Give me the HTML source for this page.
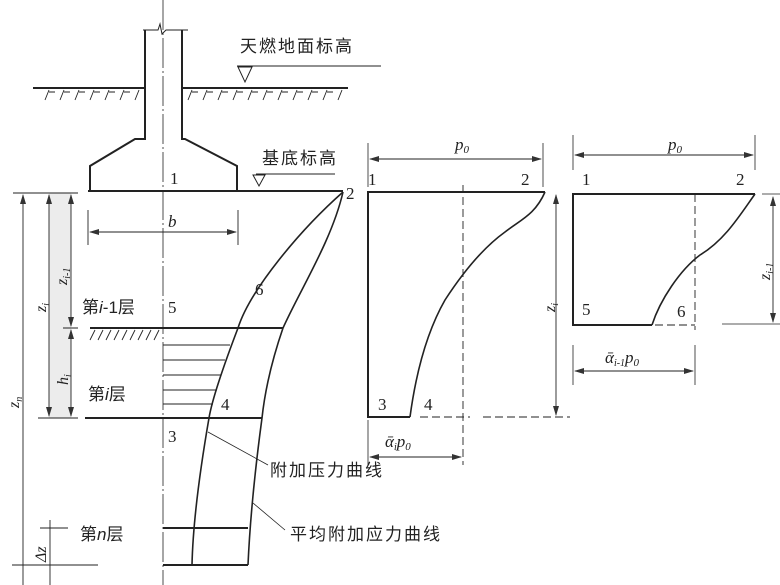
<!DOCTYPE html>
<html><head><meta charset="utf-8"><style>
html,body{margin:0;padding:0;background:#fff}
svg{display:block}
text{font-family:"Liberation Serif","Noto Serif CJK SC",serif;fill:#222}
.cn{font-family:"Liberation Sans","Noto Sans CJK SC",sans-serif}
</style></head><body>
<svg width="780" height="585" viewBox="0 0 780 585" xmlns="http://www.w3.org/2000/svg">
<defs>
<marker id="a" markerWidth="10" markerHeight="6" refX="9" refY="3" orient="auto-start-reverse" markerUnits="userSpaceOnUse"><path d="M0,0 L10,3 L0,6 z" fill="#333"/></marker>
</defs>
<g stroke="#222" fill="none" stroke-width="1.2">
<!-- center line -->
<line x1="163" y1="0" x2="163" y2="585" stroke-width="0.8" stroke-dasharray="30,3,2,3"/>
<!-- column top -->
<path d="M143,30 H158 L160,24 L162,34 L166,30 H188" stroke-width="1"/>
<!-- column & footing -->
<path d="M145,30 V139 H135 L90,166 V191 M182,30 V139 H185 L237,166 V191" stroke-width="2"/>
<!-- ground -->
<line x1="33" y1="88" x2="145" y2="88" stroke-width="2"/>
<line x1="182" y1="88" x2="348" y2="88" stroke-width="2"/>
<path d="M45,100 l4,-10 M49,92 h6 M60,100 l4,-10 M64,92 h6 M75,100 l4,-10 M79,92 h6 M90,100 l4,-10 M94,92 h6 M105,100 l4,-10 M109,92 h6 M120,100 l4,-10 M124,92 h6 M135,100 l4,-10 M188,100 l4,-10 M192,92 h6 M203,100 l4,-10 M207,92 h6 M218,100 l4,-10 M222,92 h6 M233,100 l4,-10 M237,92 h6 M248,100 l4,-10 M252,92 h6 M263,100 l4,-10 M267,92 h6 M278,100 l4,-10 M282,92 h6 M293,100 l4,-10 M297,92 h6 M308,100 l4,-10 M312,92 h6 M323,100 l4,-10 M327,92 h6 M338,100 l4,-10" stroke-width="0.9"/>
<!-- ground marker -->
<line x1="237" y1="66" x2="381" y2="66" stroke-width="1"/>
<path d="M238,67 L252,67 L245,82 Z" stroke-width="1"/>
<!-- base line -->
<line x1="88" y1="191" x2="343" y2="191" stroke-width="2"/>
<line x1="256" y1="174" x2="335" y2="174" stroke-width="1"/>
<path d="M253,175 L265,175 L259,186 Z" stroke-width="1"/>
<!-- b dimension -->
<line x1="88" y1="210" x2="88" y2="245" stroke-width="0.9"/>
<line x1="238" y1="210" x2="238" y2="245" stroke-width="0.9"/>
<line x1="90" y1="232" x2="236" y2="232" stroke-width="0.9" marker-start="url(#a)" marker-end="url(#a)"/>
<!-- left dims -->
<rect x="49" y="193" width="22" height="225" fill="#ececec" stroke="none"/>
<line x1="13" y1="193" x2="78" y2="193" stroke-width="1"/>
<line x1="38" y1="418" x2="78" y2="418" stroke-width="1"/>
<line x1="63" y1="328" x2="78" y2="328" stroke-width="1"/>
<line x1="23" y1="195" x2="23" y2="585" stroke-width="0.9" marker-start="url(#a)"/>
<line x1="49" y1="195" x2="49" y2="416" stroke-width="0.9" marker-start="url(#a)" marker-end="url(#a)"/>
<line x1="71" y1="195" x2="71" y2="326" stroke-width="0.9" marker-start="url(#a)" marker-end="url(#a)"/>
<line x1="71" y1="330" x2="71" y2="416" stroke-width="0.9" marker-start="url(#a)" marker-end="url(#a)"/>
<line x1="50" y1="520" x2="50" y2="585" stroke-width="0.9"/>
<line x1="40" y1="528" x2="68" y2="528" stroke-width="0.9"/>
<line x1="12" y1="565" x2="98" y2="565" stroke-width="0.9"/>
<!-- layer lines -->
<line x1="90" y1="328" x2="283" y2="328" stroke-width="2"/>
<path d="M90,340 l5,-10 M98,340 l5,-10 M106,340 l5,-10 M114,340 l5,-10 M122,340 l5,-10 M130,340 l5,-10 M138,340 l5,-10 M146,340 l5,-10 M154,340 l5,-10" stroke-width="0.9"/>
<path d="M163,345 H230 M163,360 H225 M163,375 H221 M163,390 H217 M163,404 H213" stroke-width="0.9"/>
<line x1="85" y1="418" x2="262" y2="418" stroke-width="2"/>
<line x1="163" y1="528" x2="248" y2="528" stroke-width="2"/>
<line x1="163" y1="565" x2="248" y2="565" stroke-width="2"/>
<!-- curves -->
<path d="M343,192 C300,230 250,290 238,328 C222,370 212,400 209,418 C200,470 193,520 192,565" stroke-width="1.6"/>
<path d="M343,192 C332,240 300,290 283,328 C272,360 265,390 262,418 C255,470 250,520 248,565" stroke-width="1.6"/>
<!-- leaders -->
<line x1="208" y1="432" x2="268" y2="465" stroke-width="0.8"/>
<line x1="253" y1="503" x2="285" y2="530" stroke-width="0.8"/>

<!-- middle diagram -->
<line x1="368" y1="143" x2="368" y2="187" stroke-width="0.8"/>
<line x1="543" y1="143" x2="543" y2="187" stroke-width="0.8"/>
<line x1="370" y1="159" x2="541" y2="159" stroke-width="0.9" marker-start="url(#a)" marker-end="url(#a)"/>
<path d="M545,192 H368 V417 H410" stroke-width="2"/>
<path d="M545,192 C535,215 520,220 505,232 C480,250 458,280 445,300 C425,335 415,380 410,417" stroke-width="1.6"/>
<line x1="463" y1="185" x2="463" y2="465" stroke-width="0.9" stroke-dasharray="8,4"/>
<path d="M420,417 H470 M483,417 H570" stroke-width="0.9" stroke-dasharray="8,4"/>
<line x1="556" y1="195" x2="556" y2="415" stroke-width="0.9" marker-start="url(#a)" marker-end="url(#a)"/>
<line x1="368" y1="420" x2="368" y2="465" stroke-width="0.8"/>
<line x1="370" y1="457" x2="461" y2="457" stroke-width="0.9" marker-start="url(#a)" marker-end="url(#a)"/>

<!-- right diagram -->
<line x1="573" y1="135" x2="573" y2="170" stroke-width="0.8"/>
<line x1="755" y1="135" x2="755" y2="170" stroke-width="0.8"/>
<line x1="575" y1="155" x2="753" y2="155" stroke-width="0.9" marker-start="url(#a)" marker-end="url(#a)"/>
<path d="M755,194 H573 V325 H652" stroke-width="2"/>
<path d="M755,194 C740,215 725,240 700,255 C680,270 660,300 652,325" stroke-width="1.6"/>
<line x1="695" y1="194" x2="695" y2="330" stroke-width="0.9" stroke-dasharray="8,4"/>
<line x1="655" y1="325" x2="695" y2="325" stroke-width="0.9" stroke-dasharray="8,4"/>
<line x1="762" y1="194" x2="780" y2="194" stroke-width="0.8"/>
<line x1="722" y1="324" x2="780" y2="324" stroke-width="0.8"/>
<line x1="773" y1="197" x2="773" y2="322" stroke-width="0.9" marker-start="url(#a)" marker-end="url(#a)"/>
<line x1="573" y1="345" x2="573" y2="385" stroke-width="0.8"/>
<line x1="695" y1="345" x2="695" y2="385" stroke-width="0.8"/>
<line x1="575" y1="371" x2="693" y2="371" stroke-width="0.9" marker-start="url(#a)" marker-end="url(#a)"/>
</g>

<g font-size="17">
<text class="cn" x="240" y="52" letter-spacing="2">天燃地面标高</text>
<text class="cn" x="262" y="164" letter-spacing="2">基底标高</text>
<text x="170" y="184">1</text>
<text x="346" y="199">2</text>
<text x="168" y="227" font-style="italic">b</text>
<text class="cn" x="82" y="313">第<tspan font-style="italic">i</tspan>-1层</text>
<text x="168" y="313">5</text>
<text x="255" y="295">6</text>
<text class="cn" x="88" y="400">第<tspan font-style="italic">i</tspan>层</text>
<text x="221" y="410">4</text>
<text x="168" y="442">3</text>
<text class="cn" x="80" y="540">第<tspan font-style="italic">n</tspan>层</text>
<text class="cn" x="270" y="476" letter-spacing="2">附加压力曲线</text>
<text class="cn" x="290" y="540" letter-spacing="2">平均附加应力曲线</text>
<text x="368" y="185">1</text>
<text x="521" y="185">2</text>
<text x="378" y="410">3</text>
<text x="424" y="410">4</text>
<text x="455" y="150" font-style="italic">p<tspan font-size="11" dy="3">0</tspan></text>
<text x="385" y="447" font-style="italic">ᾱ<tspan font-size="10" dy="3">i</tspan><tspan dy="-3">p</tspan><tspan font-size="11" dy="3">0</tspan></text>
<text x="582" y="185">1</text>
<text x="736" y="185">2</text>
<text x="582" y="315">5</text>
<text x="677" y="317">6</text>
<text x="668" y="150" font-style="italic">p<tspan font-size="11" dy="3">0</tspan></text>
<text x="605" y="363" font-style="italic">ᾱ<tspan font-size="10" dy="3">i-1</tspan><tspan dy="-3">p</tspan><tspan font-size="11" dy="3">0</tspan></text>
</g>
<g font-size="16" font-style="italic">
<text transform="translate(46,312) rotate(-90)">z<tspan font-size="10" dy="3">i</tspan></text>
<text transform="translate(67,285) rotate(-90)">z<tspan font-size="10" dy="3">i-1</tspan></text>
<text transform="translate(68,385) rotate(-90)">h<tspan font-size="10" dy="3">i</tspan></text>
<text transform="translate(19,408) rotate(-90)">z<tspan font-size="10" dy="3">n</tspan></text>
<text transform="translate(46,562) rotate(-90)">Δz</text>
<text transform="translate(555,312) rotate(-90)">z<tspan font-size="10" dy="3">i</tspan></text>
<text transform="translate(770,280) rotate(-90)">z<tspan font-size="10" dy="3">i-1</tspan></text>
</g>
</svg>
</body></html>
